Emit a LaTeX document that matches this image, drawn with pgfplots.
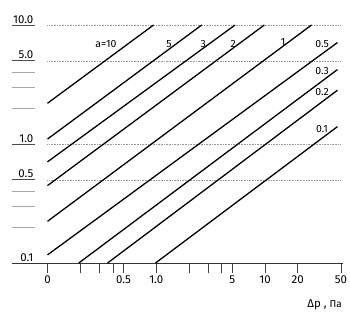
\documentclass[border=0pt]{standalone}
\usepackage{fontspec}
\setmainfont{Fira Sans}
\usepackage{pgfplots}
\pgfplotsset{compat=1.18}
\begin{document}
\begin{tikzpicture}
\begin{axis}[
  at={(0,0)}, anchor=south west,
  scale only axis, width=293.5bp, height=238bp,
  xmode=log, ymode=log,
  xmin=0.1, xmax=50, ymin=0.1, ymax=10,
  axis x line*=bottom, axis y line=none,
  axis line style={draw=none},
  xtick={0.1,0.2,0.3,0.4,0.5,1,2,3,4,5,10,20,50},
  xticklabels={0,,,,0.5,1.0,,,,5,10,20,50},
  minor xtick={},
  xtick align=outside, major tick length=10bp,
  x tick style={black!75, line width=0.7bp},
  xticklabel style={font=\fontsize{11.5}{12}\selectfont, inner sep=2.5bp},
  ytick=\empty,
  clip=false,
]
% gridlines
\draw[densely dotted, gray!80, line width=0.6bp] (axis cs:0.1,10) -- (axis cs:50,10);
\draw[densely dotted, gray!80, line width=0.6bp] (axis cs:0.1,5) -- (axis cs:50,5);
\draw[densely dotted, gray!80, line width=0.6bp] (axis cs:0.1,1) -- (axis cs:50,1);
\draw[densely dotted, gray!80, line width=0.6bp] (axis cs:0.1,0.5) -- (axis cs:50,0.5);
% bottom axis line
\draw[black!80, line width=0.8bp] ([xshift=-35.5bp]axis cs:0.1,0.1) -- ([xshift=2bp]axis cs:50,0.1);
% y scale marks
\draw[black!70, line width=0.8bp] ([xshift=-35.5bp]axis cs:0.1,10) -- ([xshift=-12.5bp]axis cs:0.1,10);
\draw[black!70, line width=0.8bp] ([xshift=-35.5bp]axis cs:0.1,5) -- ([xshift=-12.5bp]axis cs:0.1,5);
\draw[gray!70, line width=0.8bp] ([xshift=-35.5bp]axis cs:0.1,4) -- ([xshift=-12.5bp]axis cs:0.1,4);
\draw[gray!70, line width=0.8bp] ([xshift=-35.5bp]axis cs:0.1,3) -- ([xshift=-12.5bp]axis cs:0.1,3);
\draw[gray!70, line width=0.8bp] ([xshift=-35.5bp]axis cs:0.1,2) -- ([xshift=-12.5bp]axis cs:0.1,2);
\draw[black!70, line width=0.8bp] ([xshift=-35.5bp]axis cs:0.1,1) -- ([xshift=-12.5bp]axis cs:0.1,1);
\draw[black!70, line width=0.8bp] ([xshift=-35.5bp]axis cs:0.1,0.5) -- ([xshift=-12.5bp]axis cs:0.1,0.5);
\draw[gray!70, line width=0.8bp] ([xshift=-35.5bp]axis cs:0.1,0.4) -- ([xshift=-12.5bp]axis cs:0.1,0.4);
\draw[gray!70, line width=0.8bp] ([xshift=-35.5bp]axis cs:0.1,0.3) -- ([xshift=-12.5bp]axis cs:0.1,0.3);
\draw[gray!70, line width=0.8bp] ([xshift=-35.5bp]axis cs:0.1,0.2) -- ([xshift=-12.5bp]axis cs:0.1,0.2);
\node[anchor=south east, inner sep=1.5bp, font=\fontsize{11.5}{12}\selectfont] at ([xshift=-12.5bp]axis cs:0.1,10) {10.0};
\node[anchor=south east, inner sep=1.5bp, font=\fontsize{11.5}{12}\selectfont] at ([xshift=-12.5bp]axis cs:0.1,5) {5.0};
\node[anchor=south east, inner sep=1.5bp, font=\fontsize{11.5}{12}\selectfont] at ([xshift=-12.5bp]axis cs:0.1,1) {1.0};
\node[anchor=south east, inner sep=1.5bp, font=\fontsize{11.5}{12}\selectfont] at ([xshift=-12.5bp]axis cs:0.1,0.5) {0.5};
\node[anchor=south east, inner sep=1.5bp, font=\fontsize{11.5}{12}\selectfont] at ([xshift=-12.5bp]axis cs:0.1,0.1) {0.1};
% lines a = const
\addplot[black, line width=1.3bp] coordinates {(0.1,2.2) (0.945,10)};
\addplot[black, line width=1.3bp] coordinates {(0.1,1.10) (2.62,10)};
\addplot[black, line width=1.3bp] coordinates {(0.1,0.708) (5.31,10)};
\addplot[black, line width=1.3bp] coordinates {(0.1,0.447) (9.86,10)};
\addplot[black, line width=1.3bp] coordinates {(0.1,0.224) (26.8,10)};
\addplot[black, line width=1.3bp] coordinates {(0.1,0.117) (46.4,7.12)};
\addplot[black, line width=1.3bp] coordinates {(0.194,0.1) (46.4,4.22)};
\addplot[black, line width=1.3bp] coordinates {(0.357,0.1) (46.4,2.83)};
\addplot[black, line width=1.3bp] coordinates {(0.985,0.1) (46.4,1.40)};
% labels
\node[font=\fontsize{10.5}{11}\selectfont] at (axis cs:0.345,6.92) {a=10};
\node[font=\fontsize{10.5}{11}\selectfont] at (axis cs:1.31,6.92) {5};
\node[font=\fontsize{10.5}{11}\selectfont] at (axis cs:2.70,6.92) {3};
\node[font=\fontsize{10.5}{11}\selectfont] at (axis cs:5.09,6.92) {2};
\node[font=\fontsize{10.5}{11}\selectfont] at (axis cs:14.7,7.2) {1};
\node[font=\fontsize{10.5}{11}\selectfont] at (axis cs:33.5,6.92) {0.5};
\node[font=\fontsize{10.5}{11}\selectfont] at (axis cs:33.5,4.10) {0.3};
\node[font=\fontsize{10.5}{11}\selectfont] at (axis cs:33.5,2.71) {0.2};
\node[font=\fontsize{10.5}{11}\selectfont] at (axis cs:33.5,1.34) {0.1};
\node[anchor=base east, inner sep=0pt] at ([xshift=1bp, yshift=-44bp]axis cs:50,0.1) {\fontsize{11.5}{12}\selectfont Δp , \fontsize{10}{12}\selectfont Па};
\end{axis}
\pgfresetboundingbox
\path (-47.5bp,-53bp) rectangle (302.5bp,263bp);
\end{tikzpicture}
\end{document}
